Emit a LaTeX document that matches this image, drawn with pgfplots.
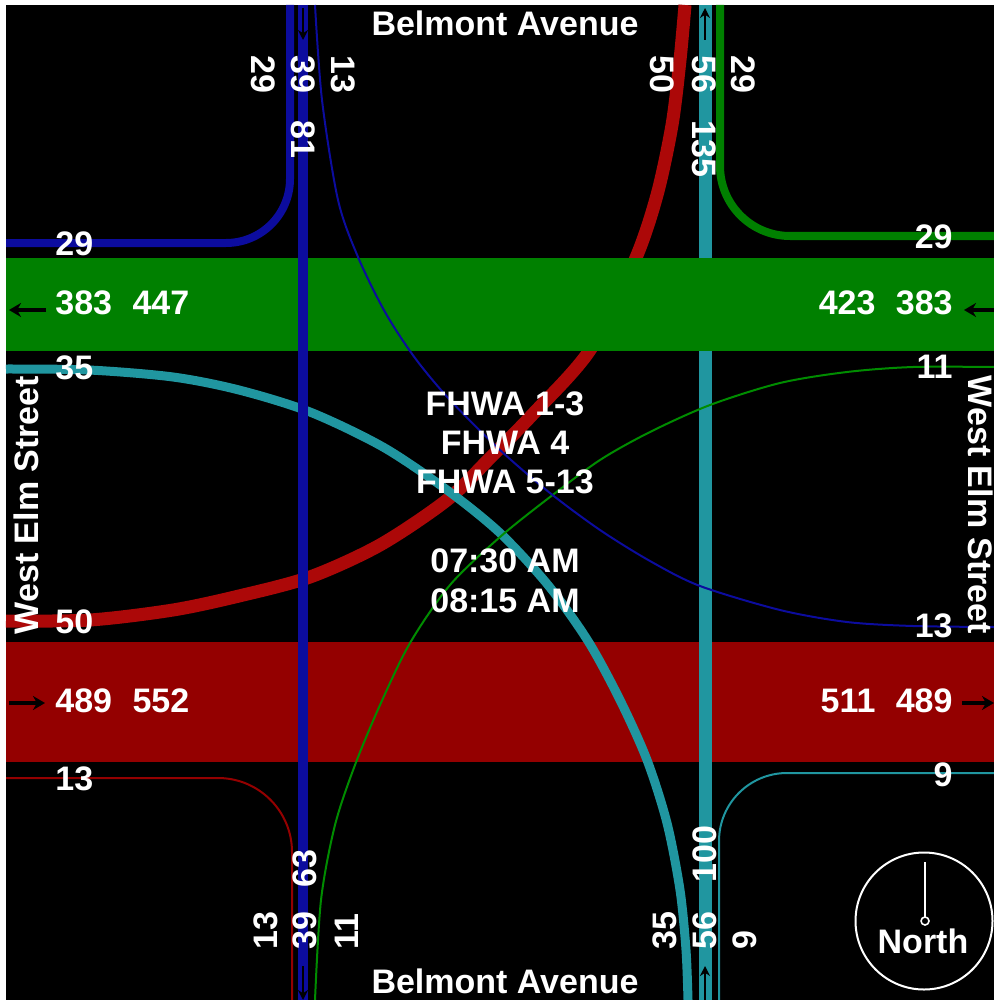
\documentclass[border=0pt]{standalone}
\usepackage{pgfplots}
\pgfplotsset{compat=1.18}
\usepackage{fontspec}
\setmainfont{Liberation Sans}
\usetikzlibrary{arrows.meta}
\definecolor{bandgreen}{RGB}{0,128,0}
\definecolor{bandred}{RGB}{148,0,0}
\definecolor{curvered}{RGB}{172,8,8}
\definecolor{navy}{RGB}{12,12,158}
\definecolor{teal2}{RGB}{32,150,160}
\definecolor{linegreen}{RGB}{0,140,0}
\tikzset{lbl/.style={text=white, font=\fontsize{17}{20}\selectfont\bfseries, inner sep=0pt},
  bandarrow/.style={black, line width=1.6pt, -{Stealth[length=6pt, width=7pt]}}}
\begin{document}
\begin{tikzpicture}
\begin{axis}[
  width=497pt, height=500pt, scale only axis,
  xmin=0, xmax=994, ymin=0, ymax=1000, y dir=reverse,
  axis lines=none, clip=true,
  every axis plot/.append style={line join=round}
]
% background
\addplot[fill=black, draw=none] coordinates {(6,5) (994,5) (994,1000) (6,1000)} -- cycle;
% eastbound band (red)
\addplot[fill=bandred, draw=none] coordinates {(6,642) (994,642) (994,762) (6,762)} -- cycle;
% northbound through (teal)
\addplot[teal2, line width=6.5pt] coordinates {(705,5) (705,1000)};
% eastbound left turn (red curve)
\addplot[curvered, line width=6.5pt, smooth] coordinates {
 (6,621) (90,620) (173,610) (239,596) (310,577) (380,545) (447,500) (490,458)
 (533,414) (590,350) (635,260) (657,195) (672,125) (680,60) (685,5)};
% northbound left turn (teal curve)
\addplot[teal2, line width=4.5pt, smooth] coordinates {
 (6,369) (89,370) (173,377) (239,390) (310,412) (383,447) (447,490) (500,533)
 (548,585) (588,641) (620,700) (647,760) (667,823) (680,890) (686,950) (688,1000)};
% westbound left turn (thin green)
\addplot[linegreen, line width=1pt, smooth] coordinates {
 (994,367) (913,367) (847,372) (780,383) (710,405) (650,432) (600,460) (550,497)
 (500,537) (450,585) (410,643) (380,705) (355,765) (335,825) (321,900) (315,1000)};
% eastbound right turn (thin red)
\addplot[bandred, line width=1pt, rounded corners=37pt] coordinates {(6,778) (292,778) (292,1000)};
% westbound right turn (thin teal)
\addplot[teal2, line width=1pt, rounded corners=34pt] coordinates {(994,773) (719,773) (719,1000)};
% westbound band (green)
\addplot[fill=bandgreen, draw=none] coordinates {(6,258) (994,258) (994,351) (6,351)} -- cycle;
% southbound through (blue)
\addplot[navy, line width=5pt] coordinates {(303,5) (303,1000)};
% southbound left turn (thin blue)
\addplot[navy, line width=1pt, smooth] coordinates {
 (315,5) (322,100) (338,200) (358,257) (385,312) (415,358) (450,400) (500,450)
 (550,493) (600,530) (650,561) (700,586) (780,610) (847,622) (913,626) (994,627)};
% southbound right turn (blue)
\addplot[navy, line width=4pt, rounded corners=32pt] coordinates {(6,243) (290,243) (290,5)};
% westbound right turn (green)
\addplot[bandgreen, line width=4pt, rounded corners=35pt] coordinates {(994,236) (720,236) (720,5)};
% direction arrows
\addplot[bandarrow] coordinates {(46,310) (9,310)};
\addplot[bandarrow] coordinates {(994,310) (964,310)};
\addplot[bandarrow] coordinates {(9,703) (45,703)};
\addplot[bandarrow] coordinates {(962,703) (994,703)};
\addplot[black, line width=1pt, -{Stealth[length=5pt, width=5pt]}] coordinates {(705,1000) (705,966)};
\addplot[black, line width=1pt, -{Stealth[length=5pt, width=5pt]}] coordinates {(705,40) (705,8)};
\addplot[black, line width=1pt, -{Stealth[length=5pt, width=5pt]}] coordinates {(303,8) (303,40)};
\addplot[black, line width=1pt, -{Stealth[length=5pt, width=5pt]}] coordinates {(303,966) (303,1000)};
% compass
\addplot[only marks, mark=o, mark size=34.25pt, mark options={draw=white, line width=1pt, fill=none}] coordinates {(924,921)};
\addplot[white, line width=1pt] coordinates {(925,862) (925,918)};
\addplot[only marks, mark=o, mark size=2pt, mark options={draw=white, line width=0.8pt, fill=black}] coordinates {(925,921)};
\node[lbl] at (axis cs:923,941) {North};
% street names
\node[lbl] at (axis cs:505,23) {Belmont Avenue};
\node[lbl] at (axis cs:505,981) {Belmont Avenue};
\node[lbl, rotate=90] at (axis cs:26,505) {West Elm Street};
\node[lbl, rotate=-90] at (axis cs:981,505) {West Elm Street};
% centre text
\node[lbl] at (axis cs:505,404) {FHWA 1-3};
\node[lbl] at (axis cs:505,443) {FHWA 4};
\node[lbl] at (axis cs:505,482) {FHWA 5-13};
\node[lbl] at (axis cs:505,561) {07:30 AM};
\node[lbl] at (axis cs:505,601) {08:15 AM};
% west side labels
\node[lbl, anchor=west] at (axis cs:55,244) {29};
\node[lbl, anchor=west] at (axis cs:55,303) {383\hspace{0.6em}447};
\node[lbl, anchor=west] at (axis cs:55,368) {35};
\node[lbl, anchor=west] at (axis cs:55,622) {50};
\node[lbl, anchor=west] at (axis cs:55,701) {489\hspace{0.6em}552};
\node[lbl, anchor=west] at (axis cs:55,779) {13};
% east side labels
\node[lbl, anchor=east] at (axis cs:953,237) {29};
\node[lbl, anchor=east] at (axis cs:953,303) {423\hspace{0.6em}383};
\node[lbl, anchor=east] at (axis cs:953,367) {11};
\node[lbl, anchor=east] at (axis cs:953,626) {13};
\node[lbl, anchor=east] at (axis cs:953,701) {511\hspace{0.6em}489};
\node[lbl, anchor=east] at (axis cs:953,775) {9};
% north side labels
\node[lbl, rotate=-90, anchor=west] at (axis cs:263,55) {29};
\node[lbl, rotate=-90, anchor=west] at (axis cs:303,55) {39};
\node[lbl, rotate=-90, anchor=west] at (axis cs:343,55) {13};
\node[lbl, rotate=-90, anchor=west] at (axis cs:303,120) {81};
\node[lbl, rotate=-90, anchor=west] at (axis cs:662,55) {50};
\node[lbl, rotate=-90, anchor=west] at (axis cs:704,55) {56};
\node[lbl, rotate=-90, anchor=west] at (axis cs:743,55) {29};
\node[lbl, rotate=-90, anchor=west] at (axis cs:704,120) {135};
% south side labels
\node[lbl, rotate=90, anchor=west] at (axis cs:266,950) {13};
\node[lbl, rotate=90, anchor=west] at (axis cs:305,950) {39};
\node[lbl, rotate=90, anchor=west] at (axis cs:347,950) {11};
\node[lbl, rotate=90, anchor=west] at (axis cs:305,888) {63};
\node[lbl, rotate=90, anchor=west] at (axis cs:665,950) {35};
\node[lbl, rotate=90, anchor=west] at (axis cs:705,950) {56};
\node[lbl, rotate=90, anchor=west] at (axis cs:745,950) {9};
\node[lbl, rotate=90, anchor=west] at (axis cs:705,883) {100};
\end{axis}
\pgfresetboundingbox
\path (current axis.south west) rectangle (current axis.north east);
\end{tikzpicture}
\end{document}
